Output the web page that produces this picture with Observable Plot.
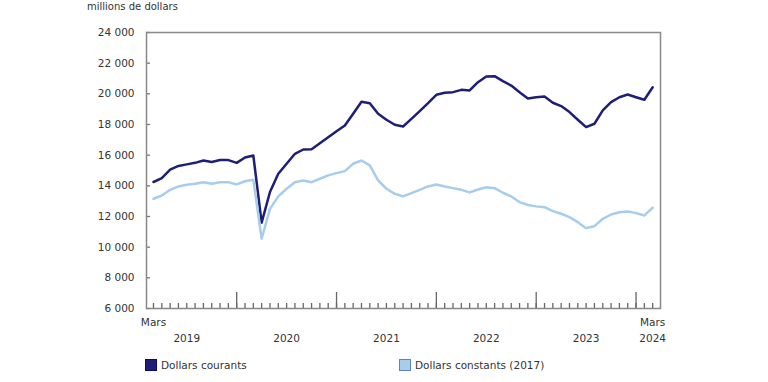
<!DOCTYPE html>
<html><head><meta charset="utf-8">
<script src="https://cdn.jsdelivr.net/npm/d3@7"></script>
<script src="https://cdn.jsdelivr.net/npm/@observablehq/plot@0.6"></script>
<style>
body{margin:0;background:#fff;font-family:"DejaVu Sans",Verdana,sans-serif;color:#333;}
#wrap{position:relative;width:768px;height:382px;overflow:hidden;}
#title{position:absolute;left:87px;top:1px;font-size:10px;color:#333;}
#chart{position:absolute;left:0;top:0;}
.leg{position:absolute;top:359px;font-size:10.5px;display:flex;align-items:center;color:#333;white-space:nowrap;}
.sw{width:12px;height:12px;border:1px solid;margin-right:4px;box-sizing:border-box;}
</style></head><body>
<div id="wrap"><div id="chart"></div><div id="title">millions de dollars</div><div id="legend"></div></div>
<script>
// Months: March 2019 to March 2024
const months = d3.utcMonth.range(new Date(Date.UTC(2019, 2, 1)), new Date(Date.UTC(2024, 3, 1))).map(d3.utcFormat("%Y-%m"));

const current = [14250,14500,15050,15300,15400,15500,15650,15550,15680,15680,15500,15850,15980,11600,13600,14790,15440,16090,16370,16390,16780,17170,17560,17930,18700,19480,19390,18700,18310,17980,17870,18370,18870,19390,19940,20070,20110,20260,20220,20760,21130,21150,20830,20540,20110,19700,19780,19830,19420,19200,18810,18310,17830,18050,18920,19460,19780,19960,19780,19610,20430];
const constant = [13160,13370,13740,13960,14070,14130,14240,14130,14240,14240,14090,14300,14390,10550,12500,13310,13810,14240,14350,14240,14460,14680,14830,14960,15440,15650,15330,14350,13810,13480,13310,13520,13740,13960,14090,13960,13850,13740,13570,13760,13910,13850,13550,13310,12940,12750,12660,12610,12350,12180,11960,11630,11240,11370,11850,12130,12280,12330,12220,12070,12570];

const seriesNames = ["Dollars courants", "Dollars constants (2017)"];
const seriesColors = ["#1e1e78", "#a6cdee"];
const legendBorders = ["#0c0c5a", "#5a85b5"];

const yTicks = [6000, 8000, 10000, 12000, 14000, 16000, 18000, 20000, 22000, 24000];
const monthLabelText = ["Mars", "Mars"];
const monthLabelAt = ["2019-03", "2024-03"];
const yearLabelText = ["2019", "2020", "2021", "2022", "2023", "2024"];
const yearLabelAt = ["2019-07", "2020-07", "2021-07", "2022-07", "2023-07", "2024-03"];

const idx = m => months.indexOf(m);
const rows = [];
months.forEach((m, i) => {
  rows.push({i, v: current[i], s: seriesNames[0]});
  rows.push({i, v: constant[i], s: seriesNames[1]});
});
const allIdx = months.map((m, i) => i);
const janIdx = months.map((m, i) => i).filter(i => months[i].endsWith("-01"));
const fmt = d => d3.format(",")(d).replace(/,/g, " ");

const monthLabels = monthLabelText.map((t, k) => ({i: idx(monthLabelAt[k]), t}));
const yearLabels = yearLabelText.map((t, k) => ({i: idx(yearLabelAt[k]), t}));

const chart = Plot.plot({
  width: 768,
  height: 350,
  marginTop: 32,
  marginLeft: 146,
  marginRight: 108,
  marginBottom: 42,
  style: {fontFamily: "DejaVu Sans, Verdana, sans-serif", fontSize: "10.5px", color: "#333", background: "white"},
  x: {type: "linear", domain: [-0.84, 60.94]},
  y: {domain: [6000, 24000]},
  color: {domain: seriesNames, range: seriesColors},
  marks: [
    Plot.axisY(yTicks, {tickSize: -4, tickPadding: 16, tickFormat: fmt, stroke: "#777", strokeWidth: 1.3, fill: "#333", label: null}),
    Plot.axisX(allIdx, {tickSize: -5, tickFormat: () => "", stroke: "#666", strokeWidth: 1.3, label: null}),
    Plot.axisX(janIdx, {tickSize: -16, tickFormat: () => "", stroke: "#666", strokeWidth: 1.3, label: null}),
    Plot.text(monthLabels, {x: "i", text: "t", frameAnchor: "bottom", dy: 17, fill: "#333"}),
    Plot.text(yearLabels, {x: "i", text: "t", frameAnchor: "bottom", dy: 33, fill: "#333"}),
    Plot.line(rows, {x: "i", y: "v", z: "s", stroke: "s", strokeWidth: 2.5, strokeLinejoin: "round", strokeLinecap: "round"}),
    Plot.frame({stroke: "#888", strokeWidth: 1.5})
  ]
});
document.getElementById("chart").appendChild(chart);

const legend = document.getElementById("legend");
const legendLeft = [145, 399];
seriesNames.forEach((n, k) => {
  const d = document.createElement("div");
  d.className = "leg";
  d.style.left = legendLeft[k] + "px";
  d.innerHTML = `<span class="sw" style="background:${seriesColors[k]};border-color:${legendBorders[k]}"></span><span>${n}</span>`;
  legend.appendChild(d);
});
</script>
</body></html>
